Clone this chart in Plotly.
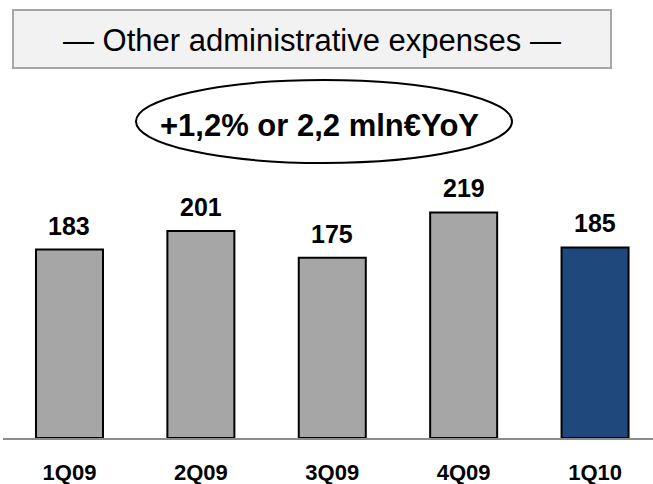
import plotly.graph_objects as go

categories = ["1Q09", "2Q09", "3Q09", "4Q09", "1Q10"]
values = [183, 201, 175, 219, 185]
bar_colors = ["#a6a6a6", "#a6a6a6", "#a6a6a6", "#a6a6a6", "#1f497d"]
title_text = "— Other administrative expenses —"
callout_text = "+1,2% or 2,2 mln€YoY"

FONT = "Liberation Sans, Arial, sans-serif"
W, H = 653, 484
ML, MR, MT, MB = 3, 0, 180, 46
PW, PH = W - ML - MR, H - MT - MB

def px_x(px):
    return (px - ML) / PW

def px_y(py):
    return 1 + (MT - py) / PH

fig = go.Figure()
fig.add_trace(go.Bar(
    x=categories, y=values, width=0.51,
    marker=dict(color=bar_colors, line=dict(color="#000000", width=2)),
    hoverinfo="skip", showlegend=False,
))

annotations = []
for c, v in zip(categories, values):
    annotations.append(dict(
        x=c, y=v, xref="x", yref="y", text=f"<b>{v}</b>", showarrow=False,
        yanchor="bottom", yshift=8,
        font=dict(family=FONT, size=25, color="#000000"),
    ))

annotations.append(dict(
    x=px_x(312), y=px_y(41), xref="paper", yref="paper", text=title_text,
    showarrow=False, xanchor="center", yanchor="middle",
    font=dict(family=FONT, size=31, color="#000000"),
))
annotations.append(dict(
    x=px_x(319), y=px_y(125), xref="paper", yref="paper", text=f"<b>{callout_text}</b>",
    showarrow=False, xanchor="center", yanchor="middle",
    font=dict(family=FONT, size=31, color="#000000"),
))

shapes = [
    dict(type="rect", xref="paper", yref="paper",
         x0=px_x(13), x1=px_x(611), y0=px_y(68), y1=px_y(10),
         fillcolor="#f2f2f2", line=dict(color="#a6a6a6", width=2), layer="below"),
    dict(type="circle", xref="paper", yref="paper",
         x0=px_x(136), x1=px_x(512), y0=px_y(163), y1=px_y(80),
         line=dict(color="#000000", width=2)),
]

fig.update_layout(
    width=W, height=H,
    margin=dict(l=ML, r=MR, t=MT, b=MB, pad=0),
    paper_bgcolor="#ffffff", plot_bgcolor="#ffffff",
    annotations=annotations, shapes=shapes,
    xaxis=dict(
        type="category", range=[-0.506, 4.441], automargin=False,
        showline=True, linecolor="#8c8c8c", linewidth=2,
        ticks="", showgrid=False, zeroline=False,
        tickfont=dict(family=FONT, size=22, color="#000000"),
        ticklabelstandoff=14, fixedrange=True,
    ),
    yaxis=dict(range=[0, 250.5], visible=False, showgrid=False, zeroline=False,
               fixedrange=True, automargin=False),
)
fig.update_xaxes(tickvals=categories, ticktext=[f"<b>{c}</b>" for c in categories])

fig.write_html("out.html", config={"displayModeBar": False},
               post_script="document.body.style.margin='0';document.body.style.overflow='hidden';")
